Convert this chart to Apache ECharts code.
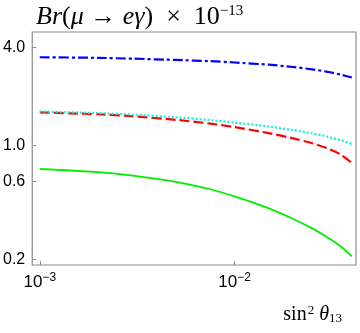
<!DOCTYPE html>
<html>
<head>
<meta charset="utf-8">
<script src="https://cdn.jsdelivr.net/npm/echarts@6/dist/echarts.min.js"></script>
<style>
html,body{margin:0;padding:0;background:#fff;}
#chart{width:360px;height:333px;}
</style>
</head>
<body>
<div id="chart"></div>
<script>
// sin^2 theta13 sample points
var xValues = [0.001, 0.002, 0.003, 0.005, 0.0075, 0.01, 0.015, 0.02, 0.025, 0.03, 0.035, 0.04];
// Br(mu -> e gamma) x 1e-13 for each curve
var blueValues  = [3.49, 3.46, 3.42, 3.36, 3.30, 3.24, 3.14, 3.04, 2.94, 2.84, 2.73, 2.62];
var cyanValues  = [1.62, 1.581, 1.549, 1.491, 1.432, 1.384, 1.307, 1.244, 1.188, 1.133, 1.078, 1.022];
var redValues   = [1.60, 1.556, 1.513, 1.438, 1.364, 1.298, 1.191, 1.106, 1.033, 0.960, 0.881, 0.782];
var greenValues = [0.719, 0.685, 0.653, 0.598, 0.538, 0.486, 0.410, 0.353, 0.309, 0.272, 0.240, 0.208];
// tick labels
var yTicks = [0.2, 0.6, 1.0, 4.0];
var xTicks = [0.001, 0.01];
var xMinVal = 0.000915, xMaxVal = 0.042;
var yMinVal = 0.184, yMaxVal = 4.99;

function lg(v){ return Math.log10(v); }
function pairs(vals){ return xValues.map(function(x,i){ return [lg(x), lg(vals[i])]; }); }

var chart = echarts.init(document.getElementById('chart'), null, {renderer:'canvas'});
var axisColor = '#8a8a8a';
var serif = 'Liberation Serif';
var option = {
  animation: false,
  backgroundColor: '#fff',
  title: [{
    left: 31, top: -3,
    text: '{i|Br}{n|(}{i|μ}{n| → }{i|eγ}{n|)  ×  10}{s|−13}',
    textStyle: {
      fontWeight: 'normal',
      rich: {
        i: {fontFamily: serif, fontStyle: 'italic', fontWeight: 'normal', fontSize: 26, color: '#000', lineHeight: 30},
        n: {fontFamily: serif, fontWeight: 'normal', fontSize: 26, color: '#000', lineHeight: 30},
        s: {fontFamily: serif, fontWeight: 'normal', fontSize: 15, color: '#000', lineHeight: 30, padding: [0,0,11,0]}
      }
    }
  }, {
    right: 13, bottom: 4,
    text: '{n|sin}{s|2}{n| }{i|θ}{b|13}',
    textStyle: {
      fontWeight: 'normal',
      rich: {
        n: {fontFamily: serif, fontWeight: 'normal', fontSize: 20, color: '#000', lineHeight: 26},
        i: {fontFamily: serif, fontStyle: 'italic', fontWeight: 'normal', fontSize: 20, color: '#000', lineHeight: 26},
        s: {fontFamily: serif, fontWeight: 'normal', fontSize: 13, color: '#000', lineHeight: 26, padding: [0,0,9,1]},
        b: {fontFamily: serif, fontWeight: 'normal', fontSize: 13, color: '#000', lineHeight: 26, padding: [7,0,0,0]}
      }
    }
  }],
  grid: {left: 32, right: 4, top: 32, bottom: 68, show: true, borderColor: axisColor, borderWidth: 1.2},
  xAxis: {
    type: 'value',
    min: lg(xMinVal), max: lg(xMaxVal),
    axisLine: {show: false, onZero: false},
    splitLine: {show: false},
    axisTick: {show: true, inside: true, length: 4, customValues: xTicks.map(lg), lineStyle: {color: axisColor}},
    axisLabel: {
      customValues: xTicks.map(lg), margin: 6,
      formatter: function(v){ return '{b|10}{s|' + '−' + Math.round(-v) + '}'; },
      rich: {
        b: {fontFamily: 'Liberation Sans', fontSize: 17, color: '#000', lineHeight: 22},
        s: {fontFamily: 'Liberation Sans', fontSize: 12, color: '#000', lineHeight: 22, padding: [0,0,8,0]}
      }
    }
  },
  yAxis: {
    type: 'value',
    min: lg(yMinVal), max: lg(yMaxVal),
    axisLine: {show: false, onZero: false},
    splitLine: {show: false},
    axisTick: {show: true, inside: true, length: 4, customValues: yTicks.map(lg), lineStyle: {color: axisColor}},
    axisLabel: {
      customValues: yTicks.map(lg), margin: 7,
      fontFamily: 'Liberation Sans', fontSize: 16, color: '#000',
      formatter: function(v){ return Math.pow(10, v).toFixed(1); }
    }
  },
  series: [
    {type: 'line', data: pairs(blueValues), smooth: 0.2, symbol: 'none',
     lineStyle: {color: '#0000ff', width: 2.2, type: [10,3,3,3]}},
    {type: 'line', data: pairs(redValues), smooth: 0.2, symbol: 'none',
     lineStyle: {color: '#ff0000', width: 2.2, type: [10,4]}},
    {type: 'line', data: pairs(cyanValues), smooth: 0.2, symbol: 'none',
     lineStyle: {color: '#10f0e0', width: 2.2, type: [2,2]}},
    {type: 'line', data: pairs(greenValues), smooth: 0.2, symbol: 'none',
     lineStyle: {color: '#00ee00', width: 1.8}}
  ]
};
chart.setOption(option);
</script>
</body>
</html>
